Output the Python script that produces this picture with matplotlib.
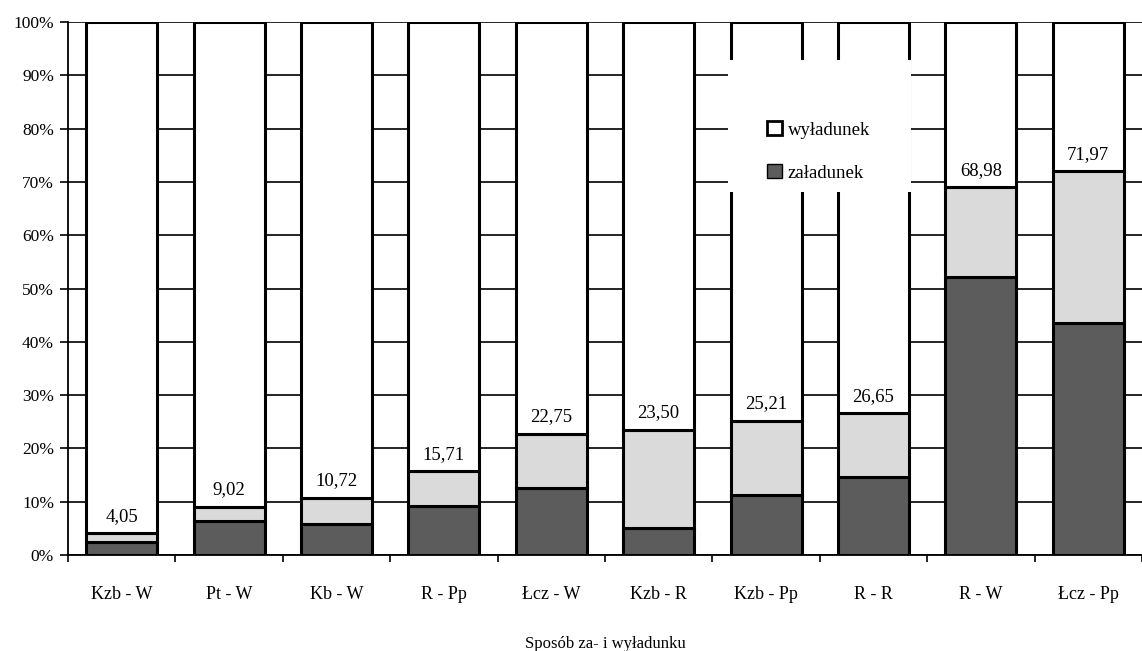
import matplotlib
matplotlib.use("Agg")
import matplotlib.pyplot as plt
from matplotlib.patches import Patch, Rectangle
import numpy as np

categories = ["Kzb - W", "Pt - W", "Kb - W", "R - Pp", "Łcz - W", "Kzb - R",
              "Kzb - Pp", "R - R", "R - W", "Łcz - Pp"]
zaladunek = [2.5, 6.4, 5.9, 9.2, 12.5, 5.0, 11.3, 14.7, 52.2, 43.6]
totals = [4.05, 9.02, 10.72, 15.71, 22.75, 23.50, 25.21, 26.65, 68.98, 71.97]
total_labels = ["4,05", "9,02", "10,72", "15,71", "22,75", "23,50", "25,21",
                "26,65", "68,98", "71,97"]
yticks = [0, 10, 20, 30, 40, 50, 60, 70, 80, 90, 100]
ytick_labels = [f"{v}%" for v in yticks]

wyladunek = [t - z for t, z in zip(totals, zaladunek)]
reszta = [100 - t for t in totals]

plt.rcParams['font.family'] = ['Liberation Serif', 'DejaVu Serif']

fig = plt.figure(figsize=(11.42, 6.51), dpi=100)
ax = fig.add_axes([0.0595, 0.1475, 0.9405, 0.8185])

x = np.arange(len(categories))
w = 0.66
dark = "#5c5c5c"
light = "#dadada"
lw = 2.2
ax.bar(x, zaladunek, w, color=dark, edgecolor="black", linewidth=lw, zorder=3)
ax.bar(x, wyladunek, w, bottom=zaladunek, color=light, edgecolor="black",
       linewidth=lw, zorder=3)
ax.bar(x, reszta, w, bottom=totals, color="white", edgecolor="black",
       linewidth=lw, zorder=3)

for xi, t, lab in zip(x, totals, total_labels):
    ax.annotate(lab, (xi, t), xytext=(0, 6), textcoords="offset points",
                ha="center", va="bottom", fontsize=13.5, zorder=4)

ax.set_xlim(-0.5, len(categories) - 0.5)
ax.set_ylim(0, 100)
ax.set_yticks(yticks)
ax.set_yticklabels(ytick_labels, fontsize=12.5)
ax.set_xticks(x)
ax.set_xticklabels(categories, fontsize=13)
ax.set_xticks(np.arange(-0.5, len(categories), 1), minor=True)
ax.tick_params(axis="x", which="major", length=0, pad=22)
ax.tick_params(axis="x", which="minor", length=5, width=1.2, direction="out")
ax.tick_params(axis="y", length=6, width=1.2, direction="out", pad=4)
ax.grid(axis="y", color="black", linewidth=1.2, zorder=0)
ax.set_axisbelow(True)
for s in ["top", "right"]:
    ax.spines[s].set_visible(False)
for s in ["left", "bottom"]:
    ax.spines[s].set_linewidth(1.3)

ax.set_xlabel("Sposób za- i wyładunku", fontsize=12, labelpad=24)

# opaque white legend area covering the two bars behind it
ax.add_patch(Rectangle((6 - w / 2 - 0.02, 68.1), 1 + w + 0.04, 24.8,
                       facecolor="white", edgecolor="none", zorder=5,
                       clip_on=False))

handles = [Patch(facecolor="white", edgecolor="black", linewidth=2, label="wyładunek"),
           Patch(facecolor=dark, edgecolor="black", linewidth=1, label="załadunek")]
leg = ax.legend(handles=handles, loc="upper left", bbox_to_anchor=(0.657, 0.84),
                bbox_transform=fig.transFigure, frameon=False, fontsize=13.5,
                handlelength=0.8, handleheight=0.8, handletextpad=0.3,
                labelspacing=1.35)
leg.set_zorder(6)

fig.savefig("out.png", dpi=100)
